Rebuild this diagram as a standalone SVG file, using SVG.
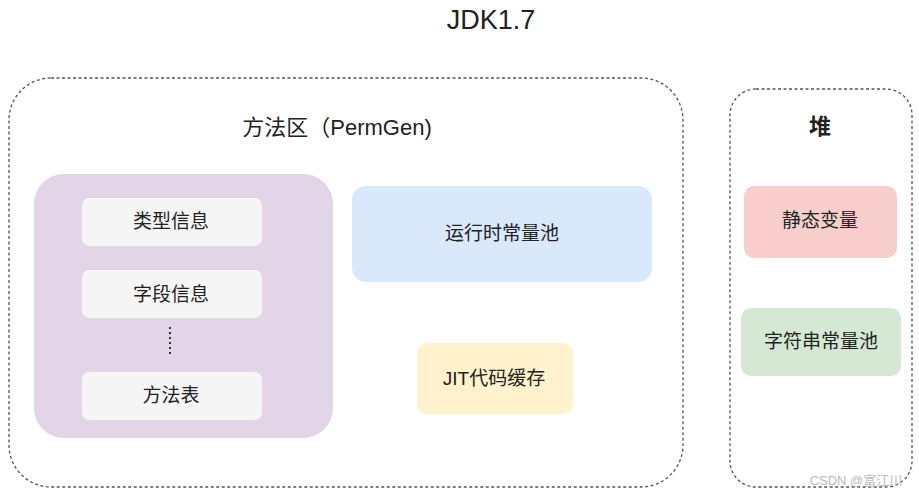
<svg xmlns="http://www.w3.org/2000/svg" width="919" height="497" viewBox="0 0 919 497">
<style>
text{font-family:"Liberation Sans","Noto Sans CJK SC",sans-serif;fill:#222;text-anchor:middle;dominant-baseline:central}
.area{fill:#fff;stroke:#555;stroke-width:1.3;stroke-dasharray:3 2.5}
.t{font-size:22px}
.n{font-size:19px}
</style>
<rect width="919" height="497" fill="#fff"/>
<text x="491" y="20" style="font-size:27px">JDK1.7</text>
<g id="method-area">
<rect class="area" x="9" y="78" width="674" height="409" rx="42"/>
<text class="t" x="337" y="127">方法区（PermGen)</text>
</g>
<g id="class-info">
<rect x="34" y="174" width="299" height="264" rx="30" fill="#e1d5e7"/>
</g>
<g id="type-info"><rect x="82" y="198" width="180" height="48" rx="7" fill="#f5f5f5"/><text class="n" x="171" y="221">类型信息</text></g>
<g id="field-info"><rect x="82" y="270" width="180" height="48" rx="7" fill="#f5f5f5"/><text class="n" x="171" y="294">字段信息</text></g>
<g id="method-table"><rect x="82" y="372" width="180" height="48" rx="7" fill="#f5f5f5"/><text class="n" x="171" y="395">方法表</text></g>
<g id="runtime-pool"><rect x="352" y="186" width="300" height="96" rx="14" fill="#dae8fc"/><text class="n" x="502" y="233">运行时常量池</text></g>
<g id="jit-cache"><rect x="417" y="343" width="156" height="71" rx="10" fill="#fff2cc"/><text class="n" x="494" y="378">JIT代码缓存</text></g>
<g id="heap">
<rect class="area" x="730" y="89" width="182" height="398" rx="26"/>
<text class="t" x="820" y="126" style="font-weight:bold">堆</text>
</g>
<g id="static-vars"><rect x="744" y="186" width="153" height="72" rx="10" fill="#f8cecc"/><text class="n" x="820" y="220">静态变量</text></g>
<g id="string-pool"><rect x="741" y="308" width="160" height="68" rx="10" fill="#d5e8d4"/><text class="n" x="821" y="341">字符串常量池</text></g>
<g id="connectors">
<line x1="170" y1="327" x2="170" y2="357" stroke="#333" stroke-width="2" stroke-dasharray="2 3"/>
</g>
<text x="856" y="480" style="font-size:13px;fill:#bbb">CSDN @富江川</text>
</svg>
